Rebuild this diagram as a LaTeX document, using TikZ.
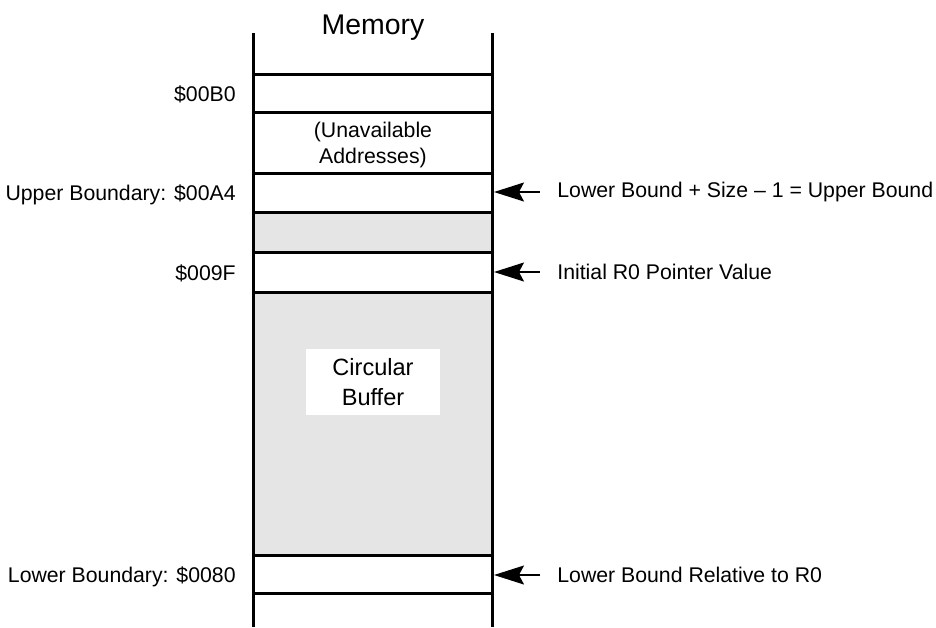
\documentclass[tikz,border=0pt]{standalone}
\usepackage{fontspec}
\setmainfont{Liberation Sans}
\usetikzlibrary{arrows.meta,positioning}

\begin{document}
\begin{tikzpicture}[x=0.02cm, y=-0.02cm, >={Stealth[length=6mm,width=3.8mm,inset=1mm]}]
\tikzstyle{lbl}=[inner sep=0pt,font=\fontsize{12.1}{14.6}\selectfont]
\tikzstyle{wall}=[line width=0.06cm]
\tikzstyle{ptr}=[->,line width=0.03cm,shorten <=0.34cm]
\useasboundingbox (0,0) rectangle (936,627);
\fill[black!10] (253,212) rectangle (492,252);
\fill[black!10] (253,292) rectangle (492,555);
\foreach \y in {74,112,173,212,252,292,555,593}
  \draw[wall] (253,\y) -- (492,\y);
\draw[wall] (253,33) -- (253,627);
\draw[wall] (492,33) -- (492,627);
\node[inner sep=0pt,anchor=base,font=\fontsize{16.2}{19}\selectfont] (mem) at (373,34) {Memory};
\node[lbl,align=center] (unav) at (373,145) {(Unavailable\\Addresses)};
\node[fill=white,minimum width=2.68cm,minimum height=1.32cm,align=center,font=\fontsize{13.4}{17}\selectfont] (buf) at (373,382) {Circular\\Buffer};
\node[lbl,anchor=base east] (b0) at (236,101) {\$00B0};
\node[lbl,anchor=base east] (ub) at (236,200) {Upper Boundary: \$00A4};
\node[lbl,anchor=base east] (p0) at (236,280) {\$009F};
\node[lbl,anchor=base east] (lb) at (236,582) {Lower Boundary: \$0080};
\node[lbl,anchor=west] (ubv) at (557,192) {Lower Bound + Size -- 1 = Upper Bound};
\node[lbl,anchor=west] (r0) at (557,272) {Initial R0 Pointer Value};
\node[lbl,anchor=west] (lbv) at (557,575) {Lower Bound Relative to R0};
\coordinate (t1) at (494,192);
\coordinate (t2) at (494,272);
\coordinate (t3) at (494,575);
\draw[ptr] (ubv.west) -- (t1);
\draw[ptr] (r0.west) -- (t2);
\draw[ptr] (lbv.west) -- (t3);
\end{tikzpicture}
\end{document}
